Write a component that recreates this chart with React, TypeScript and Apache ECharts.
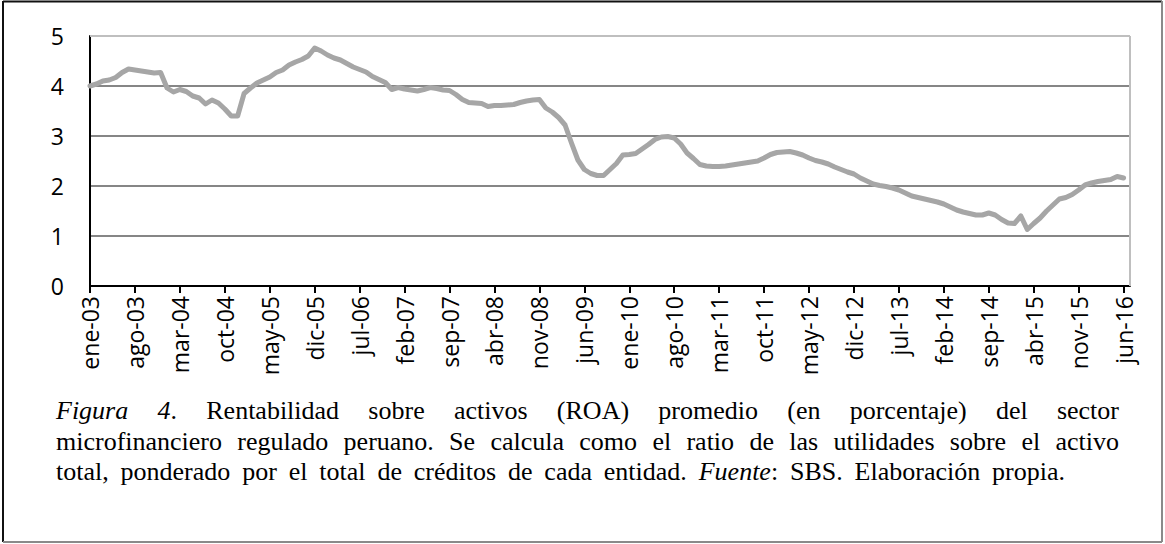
import React, { useEffect, useRef } from 'react';
import * as echarts from 'echarts';

const W = 1165;
const H = 544;

// Month abbreviations (Spanish) and covered years
const MONTHS = ['ene', 'feb', 'mar', 'abr', 'may', 'jun', 'jul', 'ago', 'sep', 'oct', 'nov', 'dic'];
const YEARS = [2003, 2004, 2005, 2006, 2007, 2008, 2009, 2010, 2011, 2012, 2013, 2014, 2015, 2016];
const LAST_MONTH_2016 = 7; // axis runs to jul-16, data ends jun-16

// ROA (%) monthly values
const roa2003 = [4.0, 4.04, 4.1, 4.12, 4.17, 4.27, 4.34, 4.32, 4.3, 4.28, 4.26, 4.27];
const roa2004 = [3.96, 3.88, 3.93, 3.89, 3.8, 3.76, 3.64, 3.72, 3.66, 3.54, 3.4, 3.4];
const roa2005 = [3.85, 3.96, 4.06, 4.12, 4.18, 4.27, 4.32, 4.42, 4.48, 4.53, 4.6, 4.76];
const roa2006 = [4.7, 4.62, 4.56, 4.52, 4.45, 4.38, 4.33, 4.28, 4.19, 4.13, 4.07, 3.93];
const roa2007 = [3.97, 3.94, 3.92, 3.9, 3.93, 3.97, 3.95, 3.92, 3.91, 3.83, 3.73, 3.67];
const roa2008 = [3.66, 3.65, 3.59, 3.61, 3.61, 3.62, 3.63, 3.67, 3.7, 3.72, 3.73, 3.56];
const roa2009 = [3.48, 3.37, 3.22, 2.86, 2.52, 2.33, 2.25, 2.21, 2.21, 2.33, 2.45, 2.62];
const roa2010 = [2.63, 2.65, 2.74, 2.83, 2.93, 2.98, 2.99, 2.96, 2.84, 2.66, 2.55, 2.43];
const roa2011 = [2.4, 2.39, 2.39, 2.4, 2.42, 2.44, 2.46, 2.48, 2.5, 2.56, 2.63, 2.67];
const roa2012 = [2.68, 2.69, 2.66, 2.62, 2.56, 2.51, 2.48, 2.44, 2.38, 2.33, 2.28, 2.24];
const roa2013 = [2.16, 2.1, 2.04, 2.01, 1.99, 1.96, 1.92, 1.86, 1.8, 1.77, 1.74, 1.71];
const roa2014 = [1.68, 1.64, 1.58, 1.52, 1.48, 1.45, 1.42, 1.42, 1.46, 1.42, 1.33, 1.26];
const roa2015 = [1.25, 1.4, 1.13, 1.25, 1.36, 1.5, 1.62, 1.74, 1.77, 1.83, 1.92, 2.02];
const roa2016 = [2.06, 2.09, 2.11, 2.13, 2.19, 2.16];

const Y_TICKS = [0, 1, 2, 3, 4, 5];

// Caption text: lines -> words -> [text, italic] segments
type Seg = [string, boolean];
const CAPTION_L1: Seg[][] = [
  [['Figura', true]], [['4', true], ['.', false]], [['Rentabilidad', false]], [['sobre', false]],
  [['activos', false]], [['(ROA)', false]], [['promedio', false]], [['(en', false]],
  [['porcentaje)', false]], [['del', false]], [['sector', false]],
];
const CAPTION_L2: Seg[][] = 'microfinanciero regulado peruano. Se calcula como el ratio de las utilidades sobre el activo'
  .split(' ')
  .map((w) => [[w, false] as Seg]);
const CAPTION_L3: Seg[][] = [
  ...'total, ponderado por el total de créditos de cada entidad.'.split(' ').map((w) => [[w, false] as Seg]),
  [['Fuente', true], [':', false]],
  [['SBS.', false]], [['Elaboración', false]], [['propia.', false]],
];

const SERIF = "'Liberation Serif', 'Times New Roman', serif";
const SANS = "'Open Sans', 'Noto Sans', sans-serif";
const LABEL_SIZE = 23;

function buildCategories(): string[] {
  const out: string[] = [];
  YEARS.forEach((y) => {
    MONTHS.forEach((m, mi) => {
      if (y === 2016 && mi >= LAST_MONTH_2016) return;
      out.push(`${m}-${String(y).slice(2)}`);
    });
  });
  return out;
}

let measureCtx: CanvasRenderingContext2D | null = null;
function measure(text: string, size: number, italic: boolean): number {
  if (!measureCtx) measureCtx = document.createElement('canvas').getContext('2d');
  if (!measureCtx) return text.length * size * 0.45;
  measureCtx.font = `${italic ? 'italic ' : ''}${size}px ${SERIF}`;
  return measureCtx.measureText(text).width;
}

export default function App() {
  const ref = useRef<HTMLDivElement>(null);

  useEffect(() => {
    if (!ref.current) return;
    const chart = echarts.init(ref.current, undefined, { renderer: 'svg' });

    const categories = buildCategories();
    const values = [
      ...roa2003, ...roa2004, ...roa2005, ...roa2006, ...roa2007, ...roa2008, ...roa2009,
      ...roa2010, ...roa2011, ...roa2012, ...roa2013, ...roa2014, ...roa2015, ...roa2016,
    ];

    // plot area
    const gl = 90, gr = 1130, gt = 36, gb = 286;

    // caption layout
    const fs = 26;
    const capLeft = 56;
    const lineRights = [1119, 1119, 1065];
    const baselines = [418, 449, 479];
    const midOf = (b: number) => b - 0.3 * fs;

    const captionEls: any[] = [];
    const justify = (words: Seg[][], right: number, baseline: number) => {
      const segW = words.map((w) => w.map(([t, it]) => measure(t, fs, it)));
      const wordW = segW.map((s) => s.reduce((a, b) => a + b, 0));
      const total = wordW.reduce((a, b) => a + b, 0);
      const gap = Math.max(3, (right - capLeft - total) / (words.length - 1));
      let x = capLeft;
      words.forEach((w, wi) => {
        let sx = x;
        w.forEach(([t, it], si) => {
          captionEls.push({
            type: 'text',
            x: sx,
            y: midOf(baseline),
            style: {
              text: t,
              fontSize: fs,
              fontFamily: SERIF,
              fontStyle: it ? 'italic' : 'normal',
              fill: '#000',
              align: 'left',
              verticalAlign: 'middle',
            },
          });
          sx += segW[wi][si];
        });
        x += wordW[wi] + gap;
      });
    };
    justify(CAPTION_L1, lineRights[0], baselines[0]);
    justify(CAPTION_L2, lineRights[1], baselines[1]);
    justify(CAPTION_L3, lineRights[2], baselines[2]);

    chart.setOption({
      animation: false,
      backgroundColor: '#ffffff',
      grid: { left: gl, right: W - gr, top: gt, bottom: H - gb, containLabel: false },
      xAxis: {
        type: 'category',
        data: categories,
        boundaryGap: false,
        axisLine: { show: true, lineStyle: { color: '#000', width: 2 } },
        axisTick: { show: true, interval: 6, length: 7, lineStyle: { color: '#000', width: 2 } },
        axisLabel: {
          interval: 6,
          rotate: 90,
          margin: 10,
          color: '#000',
          fontSize: LABEL_SIZE,
          fontFamily: SANS,
        },
        splitLine: { show: false },
      },
      yAxis: {
        type: 'value',
        min: Y_TICKS[0],
        max: Y_TICKS[Y_TICKS.length - 1],
        interval: 1,
        axisLine: { show: true, lineStyle: { color: '#000', width: 2 } },
        axisTick: { show: false },
        axisLabel: { color: '#000', fontSize: LABEL_SIZE, fontFamily: SANS, margin: 26 },
        splitLine: { show: true, showMaxLine: false, lineStyle: { color: '#868686', width: 2 } },
      },
      graphic: [
        // plot area top & right border
        { type: 'line', shape: { x1: gl, y1: gt, x2: gr, y2: gt }, style: { stroke: '#bfbfbf', lineWidth: 2 }, z: 1 },
        { type: 'line', shape: { x1: gr, y1: gt, x2: gr, y2: gb }, style: { stroke: '#bfbfbf', lineWidth: 2 }, z: 1 },
        // outer frame
        { type: 'line', shape: { x1: 3, y1: 1.5, x2: 1162, y2: 1.5 }, style: { stroke: '#111', lineWidth: 2 } },
        { type: 'line', shape: { x1: 3, y1: 1, x2: 3, y2: 542 }, style: { stroke: '#111', lineWidth: 2 } },
        { type: 'line', shape: { x1: 1162, y1: 1, x2: 1162, y2: 542 }, style: { stroke: '#8a8a8a', lineWidth: 2 } },
        { type: 'line', shape: { x1: 3, y1: 542, x2: 1162, y2: 542 }, style: { stroke: '#8a8a8a', lineWidth: 2 } },
        ...captionEls,
      ],
      series: [
        {
          type: 'line',
          data: values,
          showSymbol: false,
          symbol: 'none',
          smooth: false,
          lineStyle: { color: '#a6a6a6', width: 5, cap: 'round', join: 'round' },
          z: 3,
        },
      ],
    });

    return () => chart.dispose();
  }, []);

  return (
    <div
      ref={ref}
      style={{ position: 'fixed', left: 0, top: 0, width: W, height: H, background: '#fff' }}
    />
  );
}
